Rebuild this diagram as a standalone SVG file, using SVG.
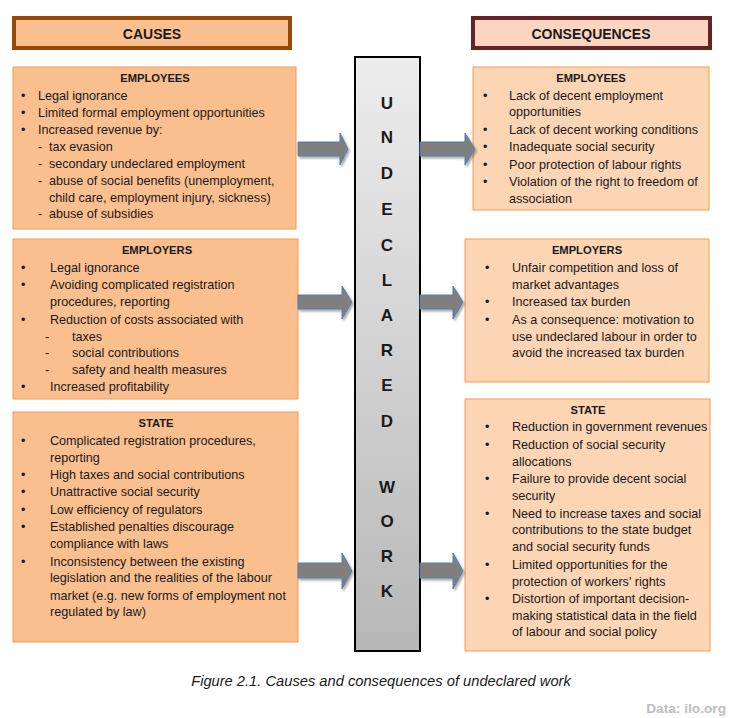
<svg xmlns="http://www.w3.org/2000/svg" width="735" height="718" viewBox="0 0 735 718">
<defs>
<linearGradient id="barg" x1="0" y1="0" x2="0" y2="1">
<stop offset="0" stop-color="#ededed"/>
<stop offset="1" stop-color="#b7b7b7"/>
</linearGradient>
<filter id="sh" x="-20%" y="-30%" width="150%" height="170%">
<feDropShadow dx="1.5" dy="2" stdDeviation="1.2" flood-color="#000" flood-opacity="0.35"/>
</filter>
<style>
text{font-family:"Liberation Sans",Arial,sans-serif;fill:#1a1a1a}
.t{font-size:12.6px}
.h{font-size:11.2px;font-weight:bold;text-anchor:middle}
.hd{font-size:14px;font-weight:bold;text-anchor:middle}
.bar{font-size:17px;font-weight:bold;text-anchor:middle}
.lb{fill:#fabf8f;stroke:#f59a50;stroke-width:1}
.rb{fill:#fcd5b5;stroke:#f59a50;stroke-width:1}
.arr{fill:#7f7f7f;stroke:#5a7fb0;stroke-width:1;filter:url(#sh)}
</style>
</defs>
<rect width="735" height="718" fill="#fff"/>

<g id="causes-header">
<rect x="14" y="18" width="276" height="30" fill="#fabf8f" stroke="#974806" stroke-width="4"/>
<text class="hd" x="152" y="39">CAUSES</text>
</g>
<g id="consequences-header">
<rect x="473" y="18" width="237" height="30" fill="#fbd5c1" stroke="#632423" stroke-width="4"/>
<text class="hd" x="591" y="39">CONSEQUENCES</text>
</g>

<g id="undeclared-work">
<rect x="355" y="57" width="65" height="594" fill="url(#barg)" stroke="#000" stroke-width="2"/>
<text class="bar" x="387" y="109">U</text>
<text class="bar" x="387" y="143">N</text>
<text class="bar" x="387" y="179">D</text>
<text class="bar" x="387" y="215">E</text>
<text class="bar" x="387" y="251">C</text>
<text class="bar" x="387" y="286">L</text>
<text class="bar" x="387" y="321">A</text>
<text class="bar" x="387" y="356">R</text>
<text class="bar" x="387" y="391">E</text>
<text class="bar" x="387" y="427">D</text>
<text class="bar" x="387" y="493">W</text>
<text class="bar" x="387" y="527">O</text>
<text class="bar" x="387" y="562">R</text>
<text class="bar" x="387" y="597">K</text>
</g>

<g id="cause-employees">
<rect class="lb" x="13" y="67" width="283" height="162"/>
<text class="h" x="155" y="82">EMPLOYEES</text>
<text class="t" x="21" y="100">•</text><text class="t" x="38" y="100">Legal ignorance</text>
<text class="t" x="21" y="117">•</text><text class="t" x="38" y="117">Limited formal employment opportunities</text>
<text class="t" x="21" y="134">•</text><text class="t" x="38" y="134">Increased revenue by:</text>
<text class="t" x="38" y="151">-</text><text class="t" x="49" y="151">tax evasion</text>
<text class="t" x="38" y="168">-</text><text class="t" x="49" y="168">secondary undeclared employment</text>
<text class="t" x="38" y="185">-</text><text class="t" x="49" y="185">abuse of social benefits (unemployment,</text>
<text class="t" x="49" y="202">child care, employment injury, sickness)</text>
<text class="t" x="38" y="218">-</text><text class="t" x="49" y="218">abuse of subsidies</text>
</g>

<g id="cause-employers">
<rect class="lb" x="13" y="239" width="285" height="160"/>
<text class="h" x="157" y="254">EMPLOYERS</text>
<text class="t" x="21" y="272">•</text><text class="t" x="50" y="272">Legal ignorance</text>
<text class="t" x="21" y="289">•</text><text class="t" x="50" y="289">Avoiding complicated registration</text>
<text class="t" x="50" y="306">procedures, reporting</text>
<text class="t" x="21" y="324">•</text><text class="t" x="50" y="324">Reduction of costs associated with</text>
<text class="t" x="45" y="341">-</text><text class="t" x="72" y="341">taxes</text>
<text class="t" x="45" y="357">-</text><text class="t" x="72" y="357">social contributions</text>
<text class="t" x="45" y="374">-</text><text class="t" x="72" y="374">safety and health measures</text>
<text class="t" x="21" y="391">•</text><text class="t" x="50" y="391">Increased profitability</text>
</g>

<g id="cause-state">
<rect class="lb" x="13" y="412" width="285" height="230"/>
<text class="h" x="156" y="427">STATE</text>
<text class="t" x="21" y="445">•</text><text class="t" x="50" y="445">Complicated registration procedures,</text>
<text class="t" x="50" y="462">reporting</text>
<text class="t" x="21" y="479">•</text><text class="t" x="50" y="479">High taxes and social contributions</text>
<text class="t" x="21" y="496">•</text><text class="t" x="50" y="496">Unattractive social security</text>
<text class="t" x="21" y="514">•</text><text class="t" x="50" y="514">Low efficiency of regulators</text>
<text class="t" x="21" y="531">•</text><text class="t" x="50" y="531">Established penalties discourage</text>
<text class="t" x="50" y="548">compliance with laws</text>
<text class="t" x="21" y="566">•</text><text class="t" x="50" y="566">Inconsistency between the existing</text>
<text class="t" x="50" y="582">legislation and the realities of the labour</text>
<text class="t" x="50" y="600">market (e.g. new forms of employment not</text>
<text class="t" x="50" y="616">regulated by law)</text>
</g>

<g id="consequence-employees">
<rect class="rb" x="473" y="67" width="236" height="143"/>
<text class="h" x="591" y="82">EMPLOYEES</text>
<text class="t" x="483" y="100">•</text><text class="t" x="509" y="100">Lack of decent employment</text>
<text class="t" x="509" y="116">opportunities</text>
<text class="t" x="483" y="134">•</text><text class="t" x="509" y="134">Lack of decent working conditions</text>
<text class="t" x="483" y="151">•</text><text class="t" x="509" y="151">Inadequate social security</text>
<text class="t" x="483" y="169">•</text><text class="t" x="509" y="169">Poor protection of labour rights</text>
<text class="t" x="483" y="186">•</text><text class="t" x="509" y="186">Violation of the right to freedom of</text>
<text class="t" x="509" y="203">association</text>
</g>

<g id="consequence-employers">
<rect class="rb" x="465" y="239" width="244" height="143"/>
<text class="h" x="587" y="254">EMPLOYERS</text>
<text class="t" x="485" y="272">•</text><text class="t" x="512" y="272">Unfair competition and loss of</text>
<text class="t" x="512" y="289">market advantages</text>
<text class="t" x="485" y="306">•</text><text class="t" x="512" y="306">Increased tax burden</text>
<text class="t" x="485" y="324">•</text><text class="t" x="512" y="324">As a consequence: motivation to</text>
<text class="t" x="512" y="341">use undeclared labour in order to</text>
<text class="t" x="512" y="357">avoid the increased tax burden</text>
</g>

<g id="consequence-state">
<rect class="rb" x="465" y="399" width="245" height="252"/>
<text class="h" x="588" y="414">STATE</text>
<text class="t" x="485" y="431">•</text><text class="t" x="512" y="431">Reduction in government revenues</text>
<text class="t" x="485" y="449">•</text><text class="t" x="512" y="449">Reduction of social security</text>
<text class="t" x="512" y="466">allocations</text>
<text class="t" x="485" y="483">•</text><text class="t" x="512" y="483">Failure to provide decent social</text>
<text class="t" x="512" y="500">security</text>
<text class="t" x="485" y="518">•</text><text class="t" x="512" y="518">Need to increase taxes and social</text>
<text class="t" x="512" y="534">contributions to the state budget</text>
<text class="t" x="512" y="551">and social security funds</text>
<text class="t" x="485" y="569">•</text><text class="t" x="512" y="569">Limited opportunities for the</text>
<text class="t" x="512" y="586">protection of workers' rights</text>
<text class="t" x="485" y="603">•</text><text class="t" x="512" y="603">Distortion of important decision-</text>
<text class="t" x="512" y="620">making statistical data in the field</text>
<text class="t" x="512" y="636">of labour and social policy</text>
</g>

<g id="connectors">
<polygon class="arr" points="298,142 340,142 340,133 348,149 340,165 340,156 298,156"/>
<polygon class="arr" points="420,142 465,142 465,133 475,149 465,165 465,156 420,156"/>
<polygon class="arr" points="298,295 342,295 342,286 352,302 342,319 342,309 298,309"/>
<polygon class="arr" points="420,295 453,295 453,286 463,302 453,319 453,309 420,309"/>
<polygon class="arr" points="298,563 342,563 342,553 352,571 342,589 342,578 298,578"/>
<polygon class="arr" points="420,563 453,563 453,553 463,571 453,589 453,578 420,578"/>
</g>

<text x="381" y="686" style="font-size:14.7px;font-style:italic;text-anchor:middle">Figure 2.1. Causes and consequences of undeclared work</text>
<text x="726" y="713" style="font-size:13.7px;font-weight:bold;text-anchor:end;fill:#bdbdbd">Data: ilo.org</text>
</svg>
